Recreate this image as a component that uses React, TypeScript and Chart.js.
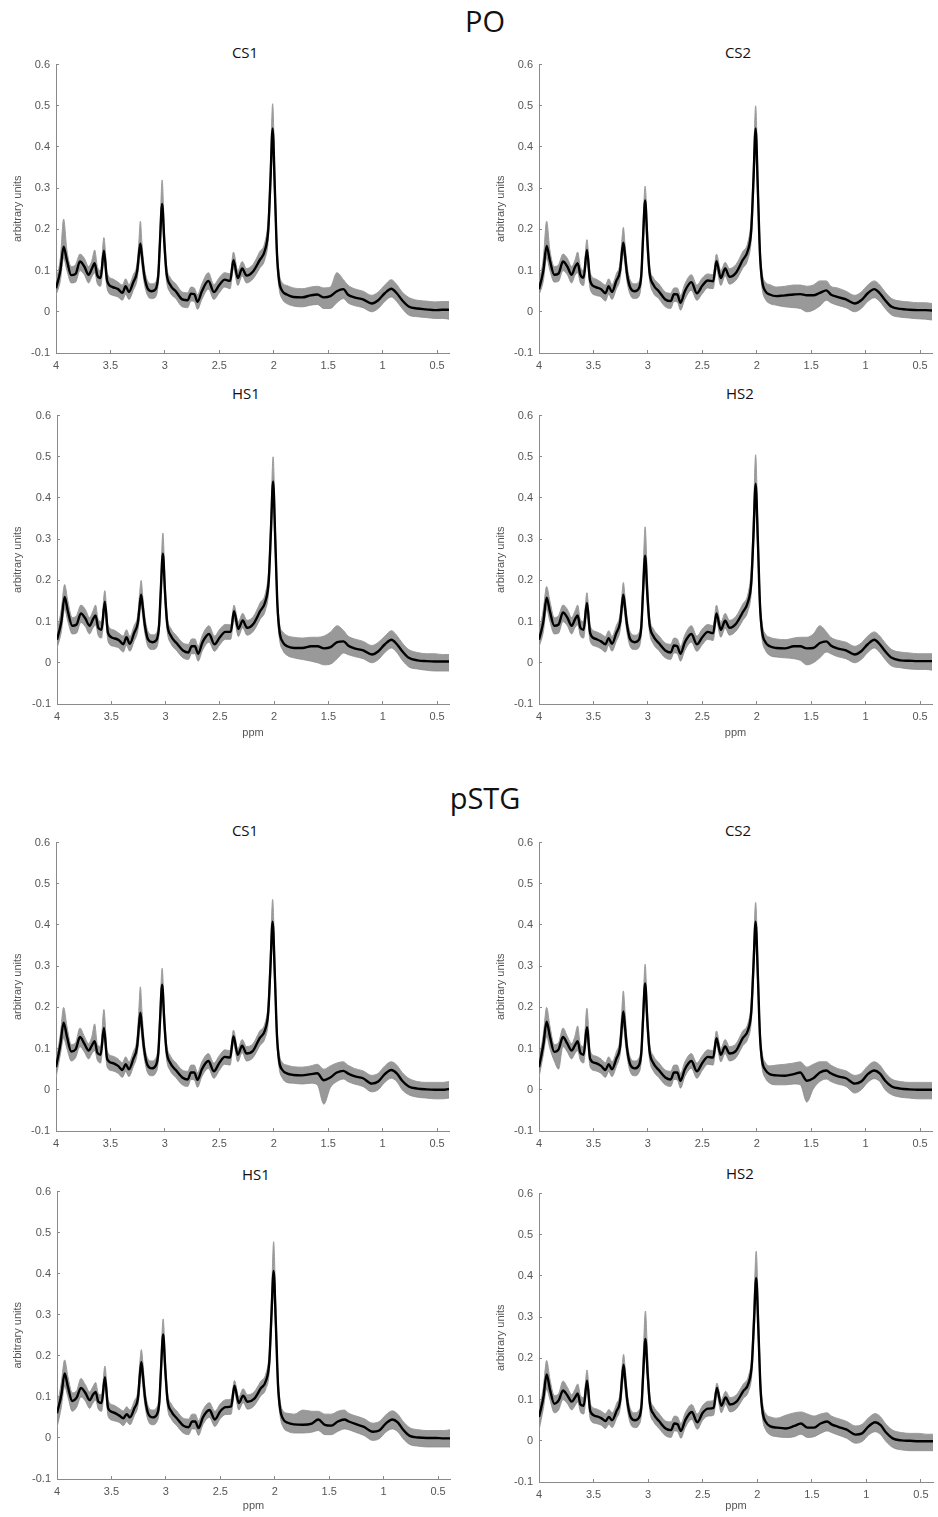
import React, { useEffect, useRef } from 'react';
import { Chart, registerables } from 'chart.js';
Chart.register(...registerables);

// Chemical shift grid (ppm), shared by every panel
const PPM = [
  4.00, 3.96, 3.93, 3.90, 3.86,
  3.82, 3.78, 3.74, 3.70, 3.67,
  3.645, 3.62, 3.59, 3.56, 3.53,
  3.48, 3.43, 3.39, 3.36, 3.33,
  3.29, 3.255, 3.24, 3.225, 3.21,
  3.19, 3.16, 3.12, 3.085, 3.06,
  3.045, 3.025, 3.005, 2.985, 2.95,
  2.90, 2.84, 2.79, 2.76, 2.73,
  2.70, 2.66, 2.60, 2.55, 2.50,
  2.45, 2.40, 2.37, 2.33, 2.29,
  2.25, 2.19, 2.13, 2.08, 2.05,
  2.03, 2.01, 1.99, 1.97, 1.95,
  1.92, 1.88, 1.82, 1.74, 1.66,
  1.60, 1.54, 1.48, 1.42, 1.36,
  1.32, 1.26, 1.18, 1.10, 1.04,
  0.98, 0.92, 0.87, 0.82, 0.76,
  0.68, 0.60, 0.52, 0.45, 0.39,
];

const X_TICKS = [0.5, 1, 1.5, 2, 2.5, 3, 3.5, 4];
const Y_TICKS = [-0.1, 0, 0.1, 0.2, 0.3, 0.4, 0.5, 0.6];
const X_MIN = 0.39;
const X_MAX = 4;
const Y_MIN = -0.1;
const Y_MAX = 0.6;

const GROUP_TITLES = ['PO', 'pSTG'];
const PANEL_TITLES = ['CS1', 'CS2', 'HS1', 'HS2'];
const Y_TITLE = 'arbitrary units';
const X_TITLE = 'ppm';

// ---------- PO ----------
const PO_CS1_MEAN = [
  .057,.10,.158,.125,.089, .092,.122,.11,.09,.105, .118,.088,.082,.148,.075, .06,.055,.046,.062,.048,
  .072,.098,.135,.165,.135, .09,.058,.05,.055,.09, .17,.262,.17,.095,.065, .05,.03,.028,.044,.043,
  .024,.05,.075,.048,.065, .078,.075,.125,.082,.105, .088,.098,.125,.15,.2, .32,.445,.3,.14,.075,
  .05,.042,.036,.035,.04, .042,.035,.038,.05,.055, .042,.035,.03,.02,.028, .045,.056,.045,.028,.013,
  .008,.006,.004,.005,.005,
];
const PO_CS1_HI = [
  .075,.13,.225,.15,.11, .115,.14,.13,.11,.125, .15,.11,.10,.18,.095, .08,.072,.065,.08,.066,
  .09,.118,.165,.22,.165, .11,.076,.068,.072,.11, .2,.32,.2,.115,.083, .068,.048,.046,.06,.058,
  .042,.068,.095,.066,.083, .095,.092,.145,.10,.122, .105,.115,.145,.17,.23, .36,.505,.34,.165,.095,
  .07,.064,.058,.056,.06, .062,.058,.06,.095,.078, .065,.056,.05,.04,.048, .065,.078,.066,.048,.035,
  .028,.026,.024,.025,.025,
];
const PO_CS1_LO = [
  .04,.075,.13,.10,.07, .072,.10,.09,.07,.085, .095,.068,.062,.12,.055, .04,.036,.028,.042,.03,
  .052,.078,.11,.14,.11, .07,.04,.032,.036,.07, .14,.225,.14,.075,.046, .032,.012,.01,.026,.025,
  .006,.03,.055,.03,.046, .06,.056,.105,.064,.087, .07,.08,.105,.128,.175, .28,.39,.26,.115,.055,
  .03,.02,.014,.012,.016, .018,.008,.008,.022,.032, .022,.015,.01,.0,.008, .025,.036,.025,.008,-.008,
  -.012,-.014,-.016,-.016,-.018,
];

const PO_CS2_MEAN = [
  .055,.10,.16,.125,.09, .093,.122,.11,.09,.108, .118,.09,.083,.15,.075, .06,.055,.045,.062,.048,
  .075,.1,.14,.168,.138, .09,.058,.05,.056,.09, .175,.27,.175,.097,.066, .05,.03,.026,.043,.042,
  .022,.05,.072,.045,.063, .076,.074,.123,.082,.105, .085,.095,.125,.15,.2, .32,.445,.3,.14,.075,
  .05,.042,.038,.04,.042, .043,.04,.04,.046,.052, .042,.036,.03,.02,.028, .045,.055,.045,.028,.012,
  .007,.005,.004,.004,.003,
];
const PO_CS2_HI = [
  .072,.13,.22,.15,.11, .115,.14,.13,.11,.125, .145,.11,.10,.175,.095, .08,.072,.065,.08,.066,
  .092,.12,.17,.205,.165, .11,.076,.068,.072,.11, .21,.305,.21,.115,.083, .068,.048,.045,.058,.058,
  .04,.068,.09,.065,.082, .092,.09,.14,.10,.12, .105,.115,.145,.17,.23, .36,.5,.34,.165,.095,
  .072,.066,.06,.062,.065, .065,.062,.065,.075,.075, .062,.058,.05,.04,.048, .065,.075,.065,.048,.032,
  .026,.024,.022,.022,.02,
];
const PO_CS2_LO = [
  .04,.075,.13,.10,.072, .074,.10,.09,.07,.088, .095,.07,.064,.122,.055, .04,.036,.026,.042,.03,
  .055,.08,.115,.14,.112, .07,.04,.032,.036,.07, .145,.235,.145,.078,.046, .032,.012,.008,.025,.024,
  .004,.03,.052,.028,.044, .058,.056,.103,.064,.087, .067,.077,.105,.128,.175, .28,.39,.26,.115,.055,
  .03,.02,.016,.012,.01, .008,.0,.004,.014,.028, .022,.016,.01,.0,.008, .025,.034,.025,.008,-.008,
  -.013,-.015,-.017,-.018,-.02,
];

const PO_HS1_MEAN = [
  .056,.10,.16,.125,.09, .093,.12,.108,.09,.105, .115,.085,.08,.148,.072, .06,.055,.045,.062,.046,
  .072,.098,.135,.165,.135, .09,.056,.05,.055,.09, .17,.265,.17,.095,.065, .048,.03,.025,.04,.04,
  .022,.05,.07,.045,.062, .075,.075,.125,.082,.103, .085,.095,.125,.15,.2, .32,.44,.3,.14,.075,
  .05,.04,.036,.036,.04, .04,.035,.038,.05,.052, .042,.035,.03,.02,.028, .045,.056,.045,.028,.012,
  .006,.004,.003,.003,.003,
];
const PO_HS1_HI = [
  .075,.13,.19,.15,.11, .115,.14,.13,.11,.125, .14,.105,.10,.175,.092, .08,.072,.065,.08,.064,
  .09,.118,.165,.2,.16, .11,.075,.068,.072,.11, .2,.315,.2,.115,.083, .066,.048,.045,.058,.058,
  .04,.068,.09,.065,.082, .093,.092,.14,.10,.12, .103,.113,.145,.17,.23, .36,.5,.34,.165,.095,
  .075,.066,.062,.06,.062, .062,.065,.075,.09,.078, .065,.058,.052,.042,.05, .065,.078,.066,.048,.032,
  .025,.022,.022,.02,.02,
];
const PO_HS1_LO = [
  .035,.075,.13,.10,.07, .072,.098,.088,.07,.084, .092,.066,.06,.12,.052, .04,.036,.026,.042,.028,
  .052,.078,.11,.14,.11, .07,.038,.032,.036,.07, .14,.23,.14,.075,.046, .03,.012,.008,.022,.022,
  .004,.03,.05,.028,.044, .057,.057,.105,.064,.085, .067,.077,.105,.128,.175, .28,.385,.26,.115,.055,
  .03,.018,.012,.008,.004, .0,-.005,-.003,.01,.024, .02,.015,.01,.0,.008, .025,.036,.025,.006,-.01,
  -.015,-.018,-.02,-.02,-.02,
];

const PO_HS2_MEAN = [
  .056,.10,.158,.125,.09, .093,.122,.11,.09,.105, .115,.085,.08,.145,.072, .058,.052,.045,.06,.046,
  .072,.098,.135,.165,.135, .09,.056,.05,.055,.088, .168,.26,.168,.095,.065, .048,.03,.025,.042,.04,
  .022,.05,.07,.045,.062, .075,.072,.12,.08,.102, .085,.095,.122,.148,.195, .31,.435,.3,.14,.075,
  .05,.04,.036,.035,.04, .04,.035,.036,.048,.052, .042,.035,.03,.02,.028, .045,.056,.045,.028,.012,
  .006,.005,.004,.004,.004,
];
const PO_HS2_HI = [
  .072,.13,.185,.15,.11, .115,.14,.13,.11,.125, .14,.105,.10,.17,.09, .076,.07,.064,.078,.064,
  .09,.118,.16,.195,.16, .108,.074,.067,.072,.11, .21,.33,.21,.115,.083, .066,.048,.045,.06,.058,
  .04,.068,.09,.065,.082, .093,.09,.14,.098,.12, .103,.113,.142,.168,.23, .36,.505,.34,.165,.095,
  .07,.062,.058,.056,.06, .062,.062,.07,.09,.075, .062,.055,.05,.04,.048, .065,.075,.065,.048,.032,
  .026,.024,.022,.022,.022,
];
const PO_HS2_LO = [
  .038,.075,.13,.10,.07, .072,.10,.09,.07,.085, .092,.066,.06,.118,.052, .04,.034,.026,.042,.028,
  .052,.078,.11,.14,.11, .07,.038,.032,.036,.068, .14,.22,.14,.075,.046, .03,.012,.008,.024,.022,
  .004,.03,.05,.028,.044, .057,.054,.1,.062,.084, .067,.077,.102,.126,.17, .27,.38,.26,.115,.055,
  .03,.018,.014,.012,.01, .006,-.005,.0,.012,.026, .022,.015,.01,.0,.008, .025,.036,.025,.008,-.008,
  -.012,-.015,-.016,-.016,-.018,
];

// ---------- pSTG ----------
const PSTG_CS1_MEAN = [
  .055,.11,.163,.13,.093, .098,.128,.112,.095,.108, .118,.09,.085,.15,.075, .065,.058,.048,.062,.05,
  .075,.105,.15,.187,.15, .098,.06,.052,.058,.09, .165,.255,.165,.095,.065, .048,.03,.025,.042,.042,
  .024,.05,.07,.045,.065, .08,.078,.13,.085,.107, .088,.095,.125,.145,.19, .3,.408,.28,.13,.07,
  .048,.04,.036,.035,.038, .04,.023,.03,.042,.046, .04,.033,.028,.015,.02, .038,.048,.04,.022,.008,
  .003,.001,.0,.0,.002,
];
const PSTG_CS1_HI = [
  .07,.135,.2,.155,.11, .115,.15,.13,.112,.13, .16,.11,.105,.195,.095, .082,.075,.066,.08,.068,
  .092,.128,.19,.25,.19, .118,.078,.07,.076,.11, .195,.295,.195,.115,.083, .066,.048,.045,.06,.06,
  .042,.068,.088,.065,.083, .097,.095,.145,.1,.122, .105,.112,.142,.162,.215, .34,.462,.32,.155,.09,
  .066,.06,.056,.055,.058, .062,.05,.058,.065,.068, .06,.052,.046,.035,.04, .058,.068,.06,.042,.028,
  .02,.018,.018,.018,.02,
];
const PSTG_CS1_LO = [
  .03,.085,.125,.1,.07, .078,.105,.092,.075,.088, .095,.072,.065,.125,.055, .046,.04,.03,.044,.032,
  .056,.085,.12,.155,.12, .078,.042,.034,.04,.07, .14,.22,.14,.075,.046, .03,.012,.008,.025,.024,
  .006,.032,.052,.028,.047, .062,.06,.112,.068,.09, .07,.078,.106,.125,.165, .265,.36,.245,.11,.052,
  .028,.018,.016,.014,.016, .012,-.035,.005,.02,.026, .02,.014,.008,-.005,.0, .018,.028,.02,.0,-.012,
  -.018,-.02,-.022,-.022,-.02,
];

const PSTG_CS2_MEAN = [
  .055,.11,.165,.13,.092, .098,.128,.112,.095,.108, .118,.09,.085,.152,.075, .065,.058,.048,.062,.05,
  .075,.105,.152,.19,.152, .098,.06,.052,.058,.09, .168,.258,.168,.095,.065, .048,.03,.025,.042,.042,
  .022,.05,.07,.045,.065, .08,.078,.125,.085,.105, .088,.095,.125,.145,.19, .3,.408,.28,.13,.07,
  .048,.038,.035,.034,.038, .042,.022,.028,.042,.047, .04,.033,.028,.015,.02, .038,.047,.04,.022,.008,
  .003,.001,.0,.0,.0,
];
const PSTG_CS2_HI = [
  .07,.135,.2,.155,.11, .115,.15,.13,.112,.13, .155,.11,.105,.198,.095, .082,.075,.066,.08,.068,
  .092,.128,.19,.24,.19, .118,.078,.07,.076,.11, .2,.305,.2,.115,.083, .066,.048,.045,.06,.06,
  .04,.068,.088,.065,.083, .097,.095,.143,.1,.122, .105,.112,.142,.162,.215, .34,.455,.32,.155,.09,
  .066,.058,.06,.062,.065, .068,.055,.062,.068,.068, .06,.052,.046,.035,.04, .058,.068,.06,.042,.026,
  .02,.018,.018,.018,.018,
];
const PSTG_CS2_LO = [
  .03,.085,.128,.1,.07, .05,.105,.092,.075,.088, .095,.072,.065,.125,.055, .046,.04,.03,.044,.032,
  .056,.085,.12,.155,.12, .078,.042,.034,.04,.07, .14,.22,.14,.075,.046, .03,.012,.008,.025,.024,
  .004,.032,.052,.028,.047, .062,.06,.107,.068,.088, .07,.078,.106,.125,.165, .265,.36,.245,.11,.052,
  .028,.016,.012,.012,.014, .012,-.03,.002,.02,.026, .02,.014,.008,-.008,.0, .018,.027,.02,.0,-.012,
  -.018,-.02,-.022,-.022,-.022,
];

const PSTG_HS1_MEAN = [
  .06,.105,.157,.125,.09, .098,.122,.11,.092,.105, .112,.088,.085,.148,.072, .062,.055,.048,.058,.05,
  .072,.1,.15,.185,.15, .095,.058,.05,.056,.088, .165,.252,.165,.093,.065, .048,.03,.026,.04,.04,
  .024,.05,.068,.045,.065, .075,.077,.127,.085,.103, .088,.095,.12,.14,.185, .3,.407,.28,.13,.07,
  .045,.037,.033,.032,.035, .045,.032,.03,.04,.045, .04,.034,.027,.015,.018, .035,.045,.038,.02,.005,
  .001,.0,.0,-.001,-.001,
];
const PSTG_HS1_HI = [
  .075,.135,.19,.15,.11, .115,.145,.13,.112,.125, .135,.108,.105,.175,.092, .08,.072,.066,.076,.068,
  .09,.12,.18,.215,.18, .115,.076,.068,.074,.108, .195,.29,.195,.113,.083, .066,.048,.046,.058,.058,
  .042,.068,.086,.065,.083, .093,.095,.14,.1,.12, .105,.112,.137,.158,.21, .34,.478,.32,.155,.09,
  .065,.06,.058,.068,.065, .065,.058,.058,.065,.068, .06,.054,.047,.036,.04, .056,.066,.058,.04,.025,
  .02,.018,.018,.018,.02,
];
const PSTG_HS1_LO = [
  .025,.075,.125,.1,.065, .075,.1,.09,.072,.085, .092,.07,.065,.122,.052, .042,.038,.03,.04,.032,
  .054,.08,.12,.155,.12, .075,.04,.032,.038,.068, .14,.215,.14,.073,.046, .03,.012,.008,.022,.022,
  .006,.032,.05,.028,.047, .057,.058,.11,.068,.086, .07,.078,.102,.12,.16, .265,.36,.245,.11,.052,
  .025,.016,.012,.012,.014, .018,.008,.008,.016,.022, .02,.014,.006,-.006,-.002, .014,.022,.015,-.002,-.016,
  -.02,-.022,-.022,-.022,-.022,
];

const PSTG_HS2_MEAN = [
  .058,.105,.161,.125,.09, .098,.122,.11,.095,.105, .115,.088,.085,.146,.072, .06,.055,.048,.058,.05,
  .072,.1,.148,.185,.148, .095,.058,.05,.056,.088, .165,.247,.165,.093,.065, .048,.03,.026,.042,.04,
  .024,.05,.07,.045,.068, .078,.08,.128,.085,.105, .088,.095,.12,.14,.185, .29,.395,.27,.125,.068,
  .045,.035,.032,.03,.036, .042,.032,.032,.042,.047, .04,.034,.027,.015,.018, .035,.045,.038,.02,.006,
  .001,.0,-.001,-.001,-.001,
];
const PSTG_HS2_HI = [
  .072,.13,.195,.15,.11, .115,.145,.13,.112,.125, .138,.11,.105,.172,.09, .078,.072,.066,.076,.068,
  .09,.12,.175,.21,.175, .113,.076,.068,.074,.108, .21,.315,.21,.113,.083, .066,.048,.046,.06,.058,
  .042,.068,.088,.065,.086, .096,.098,.14,.1,.12, .105,.112,.137,.158,.21, .34,.46,.32,.155,.09,
  .065,.058,.055,.062,.068, .07,.065,.06,.065,.068, .06,.054,.047,.036,.04, .056,.066,.058,.04,.026,
  .02,.018,.018,.016,.016,
];
const PSTG_HS2_LO = [
  .025,.078,.125,.1,.068, .075,.1,.09,.075,.085, .094,.07,.065,.12,.052, .042,.038,.03,.04,.032,
  .054,.08,.12,.155,.12, .075,.04,.032,.038,.068, .14,.21,.14,.073,.046, .03,.012,.008,.024,.022,
  .006,.032,.052,.028,.05, .06,.062,.11,.068,.088, .07,.078,.102,.12,.16, .255,.35,.235,.105,.05,
  .025,.014,.01,.008,.01, .016,.008,.01,.018,.024, .02,.014,.006,-.006,-.002, .014,.022,.015,-.002,-.016,
  -.022,-.024,-.024,-.024,-.024,
];

type PanelDef = {
  title: string;
  mean: number[];
  hi: number[];
  lo: number[];
  left: number;
  width: number;
  yW: number;
  plotTop: number;
  plotH: number;
  rightPad: number;
  xH: number;
  showPpm: boolean;
  yTitlePad: number;
  titleX: number;
  titleY: number;
};

const PAD_TOP = 8;

const PANELS: PanelDef[] = [
  { title: PANEL_TITLES[0], mean: PO_CS1_MEAN, hi: PO_CS1_HI, lo: PO_CS1_LO, left: 0, width: 460, yW: 56, plotTop: 57, plotH: 296, rightPad: 11, xH: 24, showPpm: false, yTitlePad: 11, titleX: 245, titleY: 52 },
  { title: PANEL_TITLES[1], mean: PO_CS2_MEAN, hi: PO_CS2_HI, lo: PO_CS2_LO, left: 480, width: 458, yW: 59, plotTop: 57, plotH: 296, rightPad: 6, xH: 24, showPpm: false, yTitlePad: 14, titleX: 738, titleY: 52 },
  { title: PANEL_TITLES[2], mean: PO_HS1_MEAN, hi: PO_HS1_HI, lo: PO_HS1_LO, left: 0, width: 460, yW: 57, plotTop: 408, plotH: 296, rightPad: 11, xH: 40, showPpm: true, yTitlePad: 11, titleX: 246, titleY: 393 },
  { title: PANEL_TITLES[3], mean: PO_HS2_MEAN, hi: PO_HS2_HI, lo: PO_HS2_LO, left: 480, width: 458, yW: 59, plotTop: 408, plotH: 296, rightPad: 6, xH: 40, showPpm: true, yTitlePad: 14, titleX: 740, titleY: 393 },
  { title: PANEL_TITLES[0], mean: PSTG_CS1_MEAN, hi: PSTG_CS1_HI, lo: PSTG_CS1_LO, left: 0, width: 460, yW: 56, plotTop: 835, plotH: 296, rightPad: 11, xH: 24, showPpm: false, yTitlePad: 11, titleX: 245, titleY: 830 },
  { title: PANEL_TITLES[1], mean: PSTG_CS2_MEAN, hi: PSTG_CS2_HI, lo: PSTG_CS2_LO, left: 480, width: 458, yW: 59, plotTop: 835, plotH: 296, rightPad: 6, xH: 24, showPpm: false, yTitlePad: 14, titleX: 738, titleY: 830 },
  { title: PANEL_TITLES[2], mean: PSTG_HS1_MEAN, hi: PSTG_HS1_HI, lo: PSTG_HS1_LO, left: 0, width: 460, yW: 57, plotTop: 1184, plotH: 295, rightPad: 10, xH: 38, showPpm: true, yTitlePad: 11, titleX: 256, titleY: 1174 },
  { title: PANEL_TITLES[3], mean: PSTG_HS2_MEAN, hi: PSTG_HS2_HI, lo: PSTG_HS2_LO, left: 480, width: 458, yW: 59, plotTop: 1186, plotH: 296, rightPad: 5, xH: 35, showPpm: true, yTitlePad: 14, titleX: 740, titleY: 1173 },
];

const GROUP_POS = [
  { x: 485, y: 20 },
  { x: 485, y: 797 },
];

const TICK_FONT = { family: "'Liberation Sans', Arial, sans-serif", size: 11 };
const AXIS_COLOR = '#8a8a8a';
const TEXT_COLOR = '#555555';

function fmtY(v: number) {
  const n = Math.round(v * 10) / 10;
  return n === 0 ? '0' : String(n);
}

function Panel({ p }: { p: PanelDef }) {
  const ref = useRef<HTMLCanvasElement>(null);
  const canvasH = PAD_TOP + p.plotH + p.xH;
  useEffect(() => {
    const canvas = ref.current;
    if (!canvas) return;
    const pts = (arr: number[]) => PPM.map((x, i) => ({ x, y: arr[i] }));
    const chart = new Chart(canvas, {
      type: 'line',
      data: {
        datasets: [
          { data: pts(p.hi), borderColor: '#9c9c9c', borderWidth: 1, backgroundColor: 'rgba(135,135,135,0.85)', fill: '+1', pointRadius: 0, order: 2 },
          { data: pts(p.lo), borderColor: '#a4a4a4', borderWidth: 1, fill: false, pointRadius: 0, order: 3 },
          { data: pts(p.mean), borderColor: '#000000', borderWidth: 2.4, fill: false, pointRadius: 0, order: 0 },
        ],
      },
      options: {
        responsive: false,
        animation: false,
        devicePixelRatio: 1,
        layout: { padding: { top: PAD_TOP, right: p.rightPad, left: 0, bottom: 0 } },
        plugins: { legend: { display: false }, tooltip: { enabled: false }, title: { display: false } },
        elements: { line: { cubicInterpolationMode: 'monotone' } },
        scales: {
          x: {
            type: 'linear',
            reverse: true,
            min: X_MIN,
            max: X_MAX,
            afterBuildTicks: (s: any) => { s.ticks = X_TICKS.map((v) => ({ value: v })); },
            afterFit: (s: any) => { s.height = p.xH; },
            grid: { display: true, drawOnChartArea: false, drawTicks: true, tickLength: -3, color: AXIS_COLOR },
            border: { display: true, color: AXIS_COLOR, width: 1 },
            ticks: { font: TICK_FONT, color: TEXT_COLOR, padding: 9, maxRotation: 0, autoSkip: false, callback: (v: any) => String(v) },
            title: { display: p.showPpm, text: X_TITLE, font: TICK_FONT, color: TEXT_COLOR, padding: { top: 0, bottom: 4 } },
          },
          y: {
            type: 'linear',
            min: Y_MIN,
            max: Y_MAX,
            afterBuildTicks: (s: any) => { s.ticks = Y_TICKS.map((v) => ({ value: v })); },
            afterFit: (s: any) => { s.width = p.yW; },
            grid: { display: true, drawOnChartArea: false, drawTicks: true, tickLength: -3, color: AXIS_COLOR },
            border: { display: true, color: AXIS_COLOR, width: 1 },
            ticks: { font: TICK_FONT, color: TEXT_COLOR, padding: 9, autoSkip: false, callback: (v: any) => fmtY(Number(v)) },
            title: { display: true, text: Y_TITLE, font: TICK_FONT, color: TEXT_COLOR, padding: { top: p.yTitlePad, bottom: 0 } },
          },
        },
      } as any,
    });
    return () => chart.destroy();
  }, [p]);
  return (
    <canvas
      ref={ref}
      width={p.width}
      height={canvasH}
      style={{ position: 'absolute', left: p.left, top: p.plotTop - PAD_TOP, width: p.width, height: canvasH }}
    />
  );
}

export default function App() {
  const titleStyle = (x: number, y: number, size: number): React.CSSProperties => ({
    position: 'absolute',
    left: x,
    top: y,
    transform: 'translate(-50%, -50%)',
    fontFamily: "'Open Sans', 'Noto Sans', sans-serif",
    fontSize: size,
    color: '#111',
    whiteSpace: 'nowrap',
    lineHeight: 1,
  });
  return (
    <div style={{ position: 'absolute', left: 0, top: 0, width: 938, height: 1517, background: '#fff', overflow: 'hidden' }}>
      {GROUP_TITLES.map((t, i) => (
        <div key={t} style={titleStyle(GROUP_POS[i].x, GROUP_POS[i].y, 29)}>{t}</div>
      ))}
      {PANELS.map((p, i) => (
        <div key={'t' + i} style={titleStyle(p.titleX, p.titleY, 15)}>{p.title}</div>
      ))}
      {PANELS.map((p, i) => (
        <Panel key={i} p={p} />
      ))}
    </div>
  );
}
